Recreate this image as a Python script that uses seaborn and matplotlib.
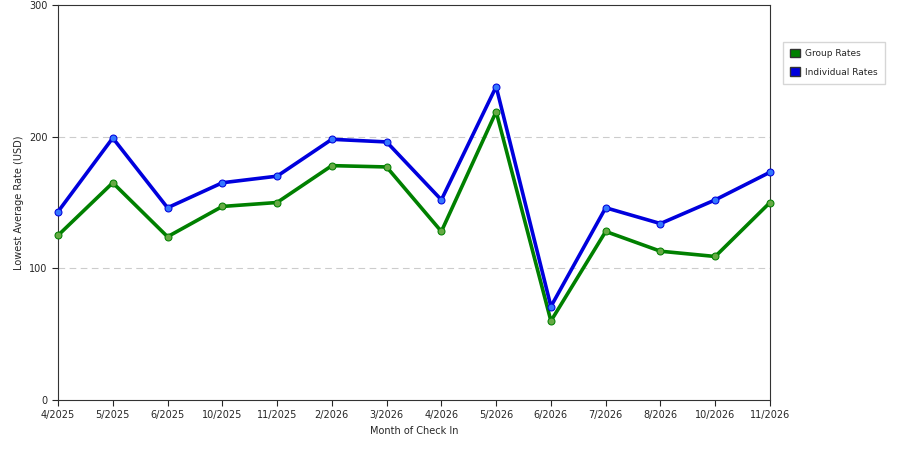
import matplotlib
matplotlib.use("Agg")
import matplotlib.pyplot as plt
import seaborn as sns
import pandas as pd
from matplotlib.patches import Patch

months = ["4/2025","5/2025","6/2025","10/2025","11/2025","2/2026","3/2026","4/2026","5/2026","6/2026","7/2026","8/2026","10/2026","11/2026"]
group_rates = [125,165,124,147,150,178,177,128,219,60,128,113,109,150]
individual_rates = [143,199,146,165,170,198,196,152,238,71,146,134,152,173]

df = pd.DataFrame({"x": list(range(len(months)))*2,
                   "rate": group_rates + individual_rates,
                   "series": ["Group Rates"]*len(months) + ["Individual Rates"]*len(months)})

sns.set_style("white")
fig = plt.figure(figsize=(9, 4.5), dpi=100)
ax = fig.add_axes([58/900, 1-400/450, 712/900, 395/450])
palette = {"Group Rates": "#008000", "Individual Rates": "#0000dd"}
sns.lineplot(data=df, x="x", y="rate", hue="series", palette=palette, lw=2.6,
             marker="o", markersize=5, ax=ax, legend=False, zorder=3)
for line in ax.lines:
    c = line.get_color()
    line.set_markeredgecolor(c)
    line.set_markerfacecolor("#66aa44" if c == "#008000" else "#3377ff")
    line.set_clip_on(False)
ax.set_xlim(0, len(months)-1)
ax.set_ylim(0, 300)
ax.set_xticks(range(len(months)))
ax.set_xticklabels(months, fontsize=7)
ax.set_yticks([0,100,200,300])
ax.set_yticklabels(["0","100","200","300"], fontsize=7)
ax.tick_params(axis="both", length=4, direction="out", bottom=True, left=True)
for y in [100, 200]:
    ax.axhline(y, color="#cccccc", ls=(0,(6,4)), lw=0.8, zorder=1)
for s in ax.spines.values():
    s.set_color("#333333"); s.set_linewidth(0.8)
ax.set_xlabel("Month of Check In", fontsize=7)
ax.set_ylabel("Lowest Average Rate (USD)", fontsize=7)
handles = [Patch(facecolor="#008000", edgecolor="#333333", label="Group Rates"),
           Patch(facecolor="#0000dd", edgecolor="#333333", label="Individual Rates")]
fig.legend(handles=handles, loc="upper left", bbox_to_anchor=(778/900, 1-37/450),
           fontsize=6.5, frameon=True, fancybox=False, edgecolor="#cccccc",
           handlelength=1.1, handleheight=1.1, borderpad=0.8, labelspacing=1.0,
           handletextpad=0.6)
fig.savefig("out.png", dpi=100)
